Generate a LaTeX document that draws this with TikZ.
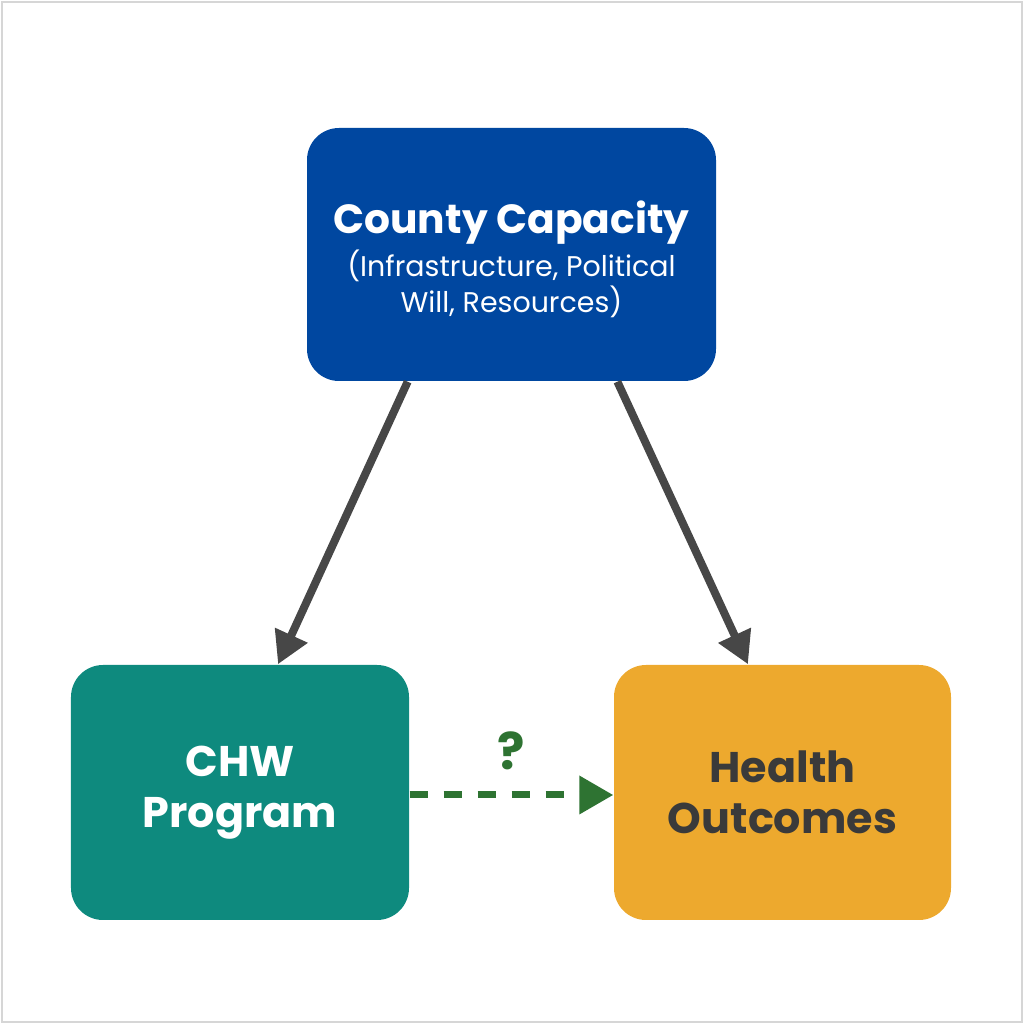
\documentclass[tikz,border=0pt]{standalone}
\usepackage{fontspec}
\setmainfont{Poppins}
\usepackage{tikz}
\usetikzlibrary{arrows.meta, positioning, calc}

\definecolor{countyblue}{HTML}{0047A0}
\definecolor{chwteal}{HTML}{0E8A7E}
\definecolor{healthgold}{HTML}{EDA92E}
\definecolor{linkgray}{HTML}{474747}
\definecolor{doubtgreen}{HTML}{2E7332}
\definecolor{framegray}{HTML}{D6D6D6}
\definecolor{darktext}{HTML}{3A3A3A}

\begin{document}
\begin{tikzpicture}[
  box/.style={rounded corners=0.32cm, align=center, inner sep=0pt},
  link/.style={line width=0.08cm, draw=linkgray, -{Triangle[length=0.32cm,width=0.34cm]}},
  doubt/.style={line width=0.07cm, draw=doubtgreen, dash pattern=on 0.18cm off 0.16cm, -{Triangle[length=0.34cm,width=0.37cm]}}
]
  % Frame
  \useasboundingbox (0,0) rectangle (10.24,10.24);
  \draw[framegray, line width=0.025cm] (0.02,0.02) rectangle (10.22,10.22);

  % Boxes
  \node[box, fill=countyblue, text=white, minimum width=4.09cm, minimum height=2.53cm,
        font=\fontsize{8.1}{8.8}\selectfont] (county) at (5.115,7.695)
    {\rule{0pt}{12pt}{\fontsize{11.6}{12.5}\selectfont\bfseries County Capacity}\\[0.6pt]
     (Infrastructure, Political\\
     Will, Resources)};
  \node[box, fill=chwteal, text=white, minimum width=3.38cm, minimum height=2.55cm,
        font=\fontsize{12.2}{14.4}\selectfont\bfseries] (chw) at (2.40,2.315) {CHW\\Program};
  \node[box, fill=healthgold, text=darktext, minimum width=3.37cm, minimum height=2.55cm,
        font=\fontsize{12.2}{14.4}\selectfont\bfseries] (health) at (7.825,2.315) {Health\\Outcomes};

  % Arrows
  \coordinate (countyL) at ($(county.south west)!0.247!(county.south east)$);
  \coordinate (countyR) at ($(county.south west)!0.758!(county.south east)$);
  \coordinate (chwTop) at ($(chw.north west)!0.612!(chw.north east)$);
  \coordinate (healthTop) at ($(health.north west)!0.398!(health.north east)$);
  \draw[link] (countyL) -- (chwTop);
  \draw[link] (countyR) -- (healthTop);

  % Uncertain link
  \draw[doubt] ([yshift=-0.025cm]chw.east) -- ([yshift=-0.025cm]health.west)
    node[midway, above=0.22cm, inner sep=0pt, text=doubtgreen, font=\fontsize{14.5}{16}\selectfont\bfseries] (qmark) {?};
\end{tikzpicture}
\end{document}
